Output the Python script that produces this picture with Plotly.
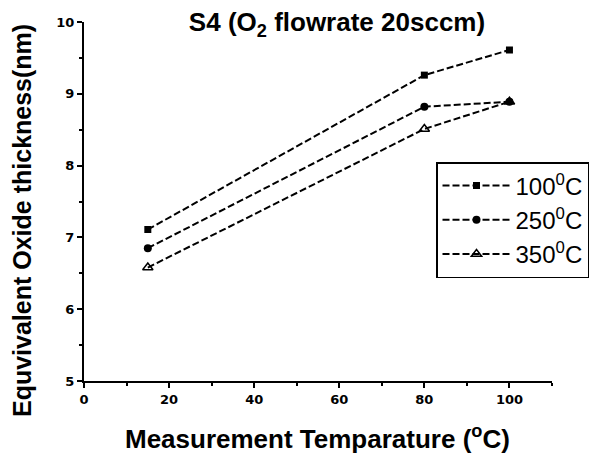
import plotly.graph_objects as go

temps = [15, 80, 100]
eot_100 = [7.11, 9.26, 9.61]
eot_250 = [6.85, 8.82, 8.89]
eot_350 = [6.58, 8.51, 8.89]
series_names = ["100<sup>0</sup>C", "250<sup>0</sup>C", "350<sup>0</sup>C"]
x_ticks = [0, 20, 40, 60, 80, 100]
y_ticks = [5, 6, 7, 8, 9, 10]

FONT = "Liberation Sans, Arial, sans-serif"
TICK = "DejaVu Sans, Verdana, sans-serif"

fig = go.Figure()
styles = [
    dict(symbol="square", size=7, color="black"),
    dict(symbol="circle", size=8, color="black"),
    dict(symbol="triangle-up-open", size=9, color="black", line=dict(width=1.5, color="black")),
]
for i, (name, ys, mk) in enumerate(zip(series_names, [eot_100, eot_250, eot_350], styles)):
    fig.add_trace(go.Scatter(
        x=temps, y=ys, name=name, mode="lines+markers",
        line=dict(color="black", width=2, dash="7px,3px"),
        marker=mk,
    ))

fig.update_layout(
    width=598, height=458,
    margin=dict(l=84, r=46, t=22, b=77, autoexpand=False),
    paper_bgcolor="white", plot_bgcolor="white",
    showlegend=True,
    title=dict(
        text="<b>S4 (O<sub>2</sub> flowrate 20sccm)</b>",
        x=337 / 598, xanchor="center", y=1 - 22 / 458, yanchor="middle",
        font=dict(family=FONT, size=26, color="black"),
    ),
    legend=dict(
        x=(436 - 84) / 468, y=0.61, xanchor="left", yanchor="top",
        bordercolor="black", borderwidth=1.5, bgcolor="white",
        font=dict(family=FONT, size=24, color="black"),
        itemwidth=68, tracegroupgap=0,
    ),
    xaxis=dict(
        range=[0, 110], tickvals=x_ticks, showline=True, linecolor="black", linewidth=2,
        ticks="outside", ticklen=5, tickwidth=2, tickcolor="black",
        minor=dict(dtick=10, ticks="outside", ticklen=3, tickcolor="black", tickwidth=1.5),
        showgrid=False, zeroline=False,
        tickfont=dict(family=TICK, size=13, color="black", weight="bold"),
    ),
    yaxis=dict(
        range=[5, 10], tickvals=y_ticks, showline=True, linecolor="black", linewidth=2,
        ticks="outside", ticklen=5, tickwidth=2, tickcolor="black",
        minor=dict(dtick=0.5, ticks="outside", ticklen=3, tickcolor="black", tickwidth=1.5),
        showgrid=False, zeroline=False,
        tickfont=dict(family=TICK, size=13, color="black", weight="bold"),
    ),
    annotations=[
        dict(text="<b>Measurement Temparature (<sup>o</sup>C)</b>",
             xref="paper", yref="paper", x=(317 - 84) / 468, y=(381 - 437) / 359,
             xanchor="center", yanchor="middle", showarrow=False,
             font=dict(family=FONT, size=26, color="black")),
        dict(text="<b>Equvivalent Oxide thickness(nm)</b>", textangle=-90,
             xref="paper", yref="paper", x=(22 - 84) / 468, y=(381 - 221) / 359,
             xanchor="center", yanchor="middle", showarrow=False,
             font=dict(family=FONT, size=25, color="black")),
    ],
)

fig.write_html("out.html")
